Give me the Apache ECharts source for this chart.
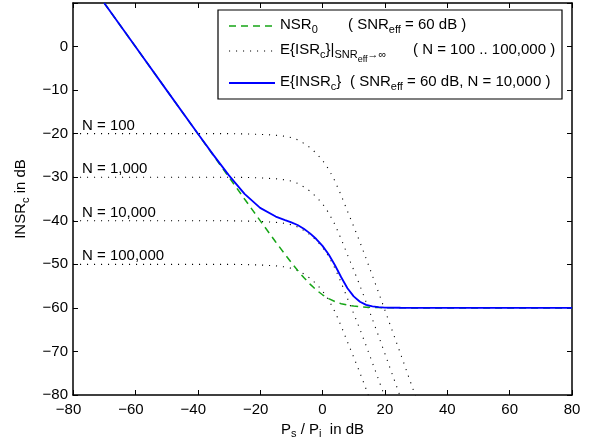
<!DOCTYPE html>
<html>
<head>
<meta charset="utf-8">
<script src="https://cdn.jsdelivr.net/npm/echarts@6/dist/echarts.min.js"></script>
</head>
<body style="margin:0">
<div id="main" style="width:590px;height:445px;"></div>
<script>
const FONT = '"Liberation Sans", Arial, Helvetica, sans-serif';
const FS = 15;

// dotted curves E{ISR_c} for SNR_eff -> inf
const xDot = [-80, -30, -25, -20, -15, -12, -10, -8, -6, -4, -2, 0, 2, 4, 6, 8, 10, 12, 14, 16, 18, 20, 22, 24, 26, 28, 30];
const isr100 = [-20, -20, -20.05, -20.15, -20.35, -20.6, -20.9, -21.4, -22.2, -23.2, -24.5, -26.1, -28.2, -30.9, -34.2, -37.8, -41.3, -44.9, -48.7, -52.6, -56.5, -60.5, -64.5, -68.5, -72.5, -76.6, -80.6];
const isr1000 = [-30, -30, -30.05, -30.15, -30.35, -30.6, -30.9, -31.4, -32.2, -33.2, -34.5, -36.1, -38.2, -40.9, -44.2, -47.8, -51.3, -54.9, -58.7, -62.6, -66.5, -70.5, -74.5, -78.5, -82.5, -86.6, -90.6];
const isr10000 = [-40, -40, -40.05, -40.15, -40.35, -40.6, -40.9, -41.4, -42.2, -43.2, -44.5, -46.1, -48.2, -50.9, -54.2, -57.8, -61.3, -64.9, -68.7, -72.6, -76.5, -80.5, -84.5, -88.5, -92.5, -96.6, -100.6];
const isr100000 = [-50, -50, -50.05, -50.15, -50.35, -50.6, -50.9, -51.4, -52.2, -53.2, -54.5, -56.1, -58.2, -60.9, -64.2, -67.8, -71.3, -74.9, -78.7, -82.6, -86.5, -90.5, -94.5, -98.5, -102.5, -106.6, -110.6];
const nLabels = ['N = 100', 'N = 1,000', 'N = 10,000', 'N = 100,000'];
const nLevels = [-20, -30, -40, -50];

// NSR_0 and E{INSR_c}
const xCurve = [-70, -60, -50, -40, -35, -30, -25, -20, -15, -12, -10, -8, -6, -4, -2, 0, 2, 4, 6, 8, 10, 12, 14, 16, 18, 20, 25, 30, 40, 60, 80];
const nsr0 = [10, 0, -10, -20, -25, -30, -34.99, -39.96, -44.87, -47.73, -49.59, -51.36, -53.03, -54.55, -55.88, -56.99, -57.88, -58.55, -59.03, -59.36, -59.59, -59.73, -59.83, -59.89, -59.93, -59.96, -59.99, -60, -60, -60, -60];
const insr = [10, 0, -10, -19.96, -24.87, -29.58, -33.81, -37.04, -39.03, -39.83, -40.35, -40.98, -41.85, -42.89, -44.19, -45.76, -47.75, -50.21, -52.97, -55.5, -57.35, -58.58, -59.3, -59.67, -59.84, -59.92, -59.97, -59.99, -60, -60, -60];

const GREEN = '#16a516';
const BLUE = '#0000ff';

function pairs(xs, ys) {
    return xs.map((x, i) => [x, ys[i]]);
}

const subRich = {
    s: { fontSize: 11, fontFamily: FONT, color: '#000', padding: [10, 0, 0, 0] },
    ss: { fontSize: 9, fontFamily: FONT, color: '#000', padding: [20, 0, 0, 0] }
};

function minus(v) {
    return v < 0 ? '\u2212' + (-v) : String(v);
}

let chart = echarts.init(document.getElementById('main'));

const axisCommon = {
    type: 'value',
    axisLine: { show: true, onZero: false, lineStyle: { color: '#000', width: 1.5 } },
    axisTick: { show: true, inside: true, length: 5, lineStyle: { color: '#000', width: 1 } },
    splitLine: { show: false }
};

let dotStyle = { color: '#000', width: 1.1, type: [1.1, 5.9] };

let option = {
    animation: false,
    backgroundColor: '#fff',
    grid: { left: 73, right: 18, top: 3, bottom: 50 },
    xAxis: [
        Object.assign({}, axisCommon, {
            min: -80, max: 80, interval: 20, position: 'bottom',
            name: 'P{s|s} / P{s|i}  in dB',
            nameLocation: 'middle', nameGap: 22,
            nameTextStyle: { fontSize: FS, fontFamily: FONT, color: '#000', rich: subRich },
            axisLabel: {
                margin: 7, fontSize: FS, fontFamily: FONT, color: '#000',
                formatter: v => v < 0 ? '{n|' + minus(v) + '}' : String(v),
                rich: { n: { fontSize: FS, fontFamily: FONT, color: '#000', padding: [0, 9, 0, 0] } }
            }
        }),
        Object.assign({}, axisCommon, {
            min: -80, max: 80, interval: 20, position: 'top',
            axisLabel: { show: false }
        })
    ],
    yAxis: [
        Object.assign({}, axisCommon, {
            min: -80, max: 10, interval: 10, position: 'left',
            name: 'INSR{s|c} in dB',
            nameLocation: 'middle', nameGap: 42,
            nameTextStyle: { fontSize: FS, fontFamily: FONT, color: '#000', rich: subRich },
            axisLabel: {
                margin: 5, fontSize: FS, fontFamily: FONT, color: '#000',
                formatter: v => v === 10 ? '' : minus(v)
            }
        }),
        Object.assign({}, axisCommon, {
            min: -80, max: 10, interval: 10, position: 'right',
            axisLabel: { show: false }
        })
    ],
    series: [
        { name: 'N100', type: 'line', data: pairs(xDot, isr100), showSymbol: false, lineStyle: dotStyle, clip: true },
        { name: 'N1000', type: 'line', data: pairs(xDot, isr1000), showSymbol: false, lineStyle: dotStyle, clip: true },
        { name: 'N10000', type: 'line', data: pairs(xDot, isr10000), showSymbol: false, lineStyle: dotStyle, clip: true },
        { name: 'N100000', type: 'line', data: pairs(xDot, isr100000), showSymbol: false, lineStyle: dotStyle, clip: true },
        { name: 'NSR0', type: 'line', data: pairs(xCurve, nsr0), showSymbol: false, clip: true,
          lineStyle: { color: GREEN, width: 1.5, type: [7, 5] } },
        { name: 'INSR', type: 'line', data: pairs(xCurve, insr), showSymbol: false, clip: true,
          lineStyle: { color: BLUE, width: 1.8 } }
    ]
};
chart.setOption(option);

// annotations and legend box
let textBase = { fontSize: FS, fontFamily: FONT, fill: '#000', rich: subRich, verticalAlign: 'middle', align: 'left' };
let graphics = [];
nLabels.forEach((t, i) => {
    let p = chart.convertToPixel({ xAxisIndex: 0, yAxisIndex: 0 }, [-80, nLevels[i]]);
    graphics.push({ type: 'text', x: p[0] + 9, y: p[1] - 8, style: Object.assign({}, textBase, { text: t }) });
});

const lgX = 218, lgY = 10, lgW = 344, lgH = 89;
graphics.push({ type: 'rect', shape: { x: lgX, y: lgY, width: lgW, height: lgH },
    style: { fill: '#fff', stroke: '#000', lineWidth: 1.2 }, z: 10 });
const rows = [
    { y: 25, line: { stroke: GREEN, lineWidth: 1.5, lineDash: [7, 5] },
      t1: 'NSR{s|0}', x2: 348, t2: '( SNR{s|eff} = 60 dB )' },
    { y: 50, line: { stroke: '#000', lineWidth: 1.1, lineDash: [1.1, 5.9] },
      t1: 'E{ISR{s|c}}|{s|SNR}{ss|eff}{s|\u2192\u221e}', x2: 413, t2: '( N = 100 .. 100,000 )' },
    { y: 82, line: { stroke: BLUE, lineWidth: 1.8 },
      t1: 'E{INSR{s|c}}', x2: 350, t2: '( SNR{s|eff} = 60 dB, N = 10,000 )' }
];
rows.forEach(r => {
    graphics.push({ type: 'line', shape: { x1: 229, y1: r.y + 1, x2: 275, y2: r.y + 1 }, style: r.line, z: 11 });
    graphics.push({ type: 'text', x: 280, y: r.y, style: Object.assign({}, textBase, { text: r.t1 }), z: 11 });
    graphics.push({ type: 'text', x: r.x2, y: r.y, style: Object.assign({}, textBase, { text: r.t2 }), z: 11 });
});
chart.setOption({ graphic: graphics });
</script>
</body>
</html>
